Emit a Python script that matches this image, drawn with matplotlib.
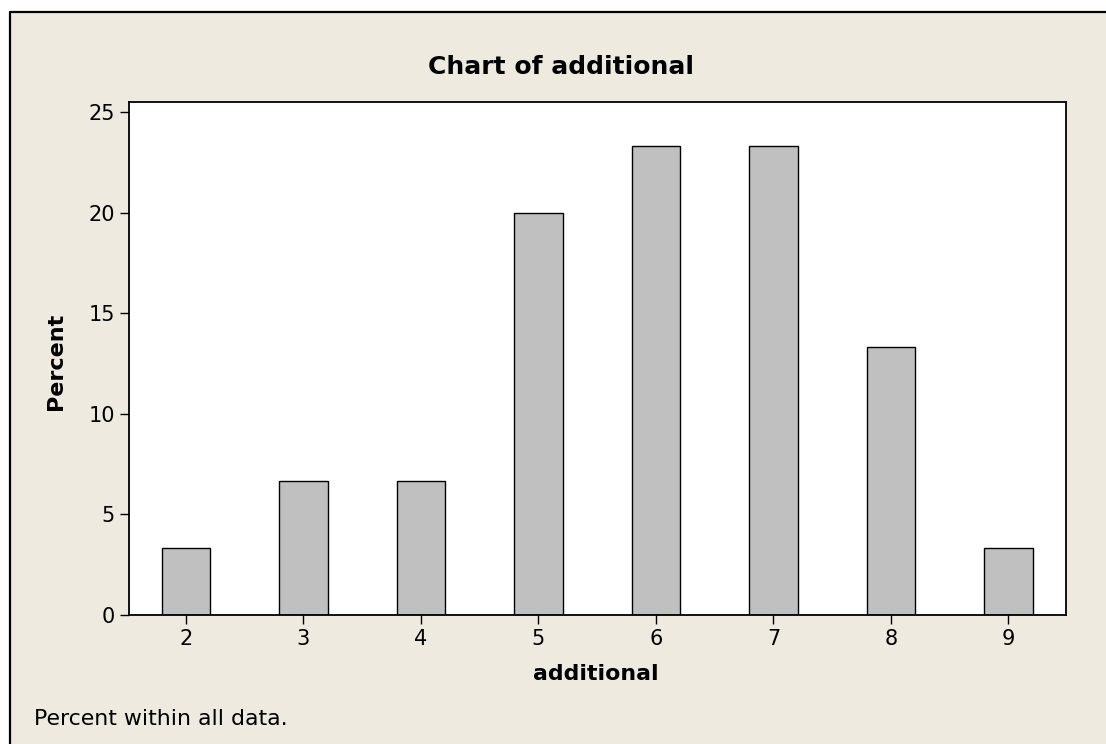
import numpy as np
from matplotlib import pyplot as plt
from matplotlib.lines import Line2D

W, H = 1106, 744

additional = [2, 3, 4, 5, 6, 7, 8, 9]
percent = [3.33, 6.67, 6.67, 20.0, 23.33, 23.33, 13.33, 3.33]
yticks = [0, 5, 10, 15, 20, 25]

BG = '#EEEAE0'
BAR = '#C0C0C0'

plt.rcParams['font.family'] = ['DejaVu Sans']


def fx(px):
    return px / W


def fy(py):
    return 1 - py / H


fig = plt.figure(figsize=(W / 100, H / 100), dpi=100, facecolor='white')

# beige panel with frame on left / top (rest is cropped off)
fig.patches.append(plt.Rectangle((fx(10), 0), 1 - fx(10), fy(12), transform=fig.transFigure,
                                 facecolor=BG, edgecolor='none', zorder=-2))
fig.lines.append(Line2D([fx(10), fx(10), 1.0], [0.0, fy(12), fy(12)], transform=fig.transFigure,
                        color='black', linewidth=1.6, zorder=-1))

ax = fig.add_axes([fx(129), fy(615), fx(1066) - fx(129), fy(102) - fy(615)])
ax.set_zorder(1)
ax.set_facecolor('white')
ax.bar(additional, percent, width=0.41, color=BAR, edgecolor='black', linewidth=1.0, zorder=2)

ax.set_xlim(1.515, 9.49)
ax.set_ylim(0, 25.5)
ax.set_xticks(additional)
ax.set_yticks(yticks)
ax.tick_params(direction='out', length=6.5, width=1.0, labelsize=15, colors='black')
ax.tick_params(axis='x', pad=3.5)
ax.tick_params(axis='y', pad=3.5)
for s in ax.spines.values():
    s.set_linewidth(1.3)
    s.set_color('black')

fig.text(fx(561), fy(74), 'Chart of additional', ha='center', va='baseline',
         fontsize=18, fontweight='bold')
fig.text(fx(56), fy(361), 'Percent', ha='center', va='center', rotation=90,
         fontsize=16, fontweight='bold')
fig.text(fx(596), fy(680), 'additional', ha='center', va='baseline',
         fontsize=15.8, fontweight='bold')
fig.text(fx(34), fy(725), 'Percent within all data.', ha='left', va='baseline', fontsize=15.8)

fig.savefig('out.png', dpi=100, facecolor=fig.get_facecolor())
